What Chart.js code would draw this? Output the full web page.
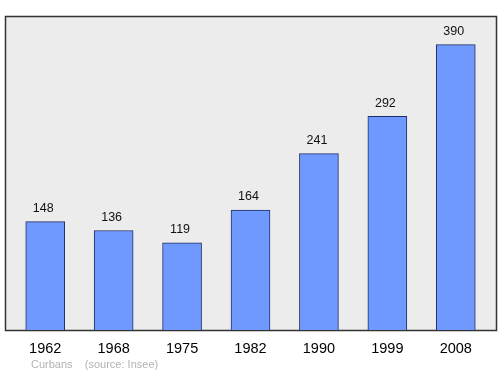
<!DOCTYPE html>
<html>
<head>
<meta charset="utf-8">
<script src="https://cdn.jsdelivr.net/npm/chart.js@4/dist/chart.umd.min.js"></script>
<style>
  html, body { margin: 0; padding: 0; background: #fff; }
  #wrap { width: 500px; height: 374px; position: relative; }
</style>
</head>
<body>
<div id="wrap"><canvas id="chart" width="500" height="374"></canvas></div>
<script>
const years = ['1962', '1968', '1975', '1982', '1990', '1999', '2008']
const population = [148, 136, 119, 164, 241, 292, 390]
const footerText = 'Curbans    (source: Insee)'

const FONT = '"Liberation Sans", Arial, sans-serif'

// grey plot box behind the bars, a bit wider than the chart area
const plotBox = {
  id: 'plotBox',
  beforeDraw(chart) {
    const { ctx } = chart
    const a = chart.chartArea
    ctx.save()
    ctx.fillStyle = '#ececec'
    ctx.strokeStyle = '#333'
    ctx.lineWidth = 1.5
    ctx.fillRect(5.5, a.top + 0.5, 491, a.bottom - a.top)
    ctx.strokeRect(5.5, a.top + 0.5, 491, a.bottom - a.top)
    ctx.restore()
  }
}

// numbers above each bar + source line
const valueLabels = {
  id: 'valueLabels',
  afterDatasetsDraw(chart) {
    const { ctx } = chart
    const meta = chart.getDatasetMeta(0)
    ctx.save()
    ctx.font = '12.5px ' + FONT
    ctx.fillStyle = '#111'
    ctx.textAlign = 'center'
    ctx.textBaseline = 'middle'
    meta.data.forEach((bar, i) => {
      ctx.fillText(String(population[i]), bar.x - 2, bar.y - 13)
    })
    ctx.font = '11px ' + FONT
    ctx.fillStyle = '#b3b3b3'
    ctx.textAlign = 'left'
    ctx.fillText(footerText, 31, 365)
    ctx.restore()
  }
}

new Chart(document.getElementById('chart'), {
  type: 'bar',
  data: {
    labels: years,
    datasets: [{
      data: population,
      backgroundColor: '#7099ff',
      borderColor: '#1f2f66',
      borderWidth: 1,
      barThickness: 39
    }]
  },
  options: {
    responsive: false,
    animation: false,
    devicePixelRatio: 1,
    layout: { padding: { left: 11, right: 10, top: 16, bottom: 0 } },
    plugins: {
      legend: { display: false },
      tooltip: { enabled: false }
    },
    scales: {
      x: {
        grid: { display: false, drawTicks: false },
        border: { display: false },
        ticks: { color: '#000', font: { family: FONT, size: 14.5 }, padding: 10 },
        afterFit(scale) { scale.height = 44 }
      },
      y: {
        display: false,
        min: 0,
        max: 429
      }
    }
  },
  plugins: [plotBox, valueLabels]
})
</script>
</body>
</html>
